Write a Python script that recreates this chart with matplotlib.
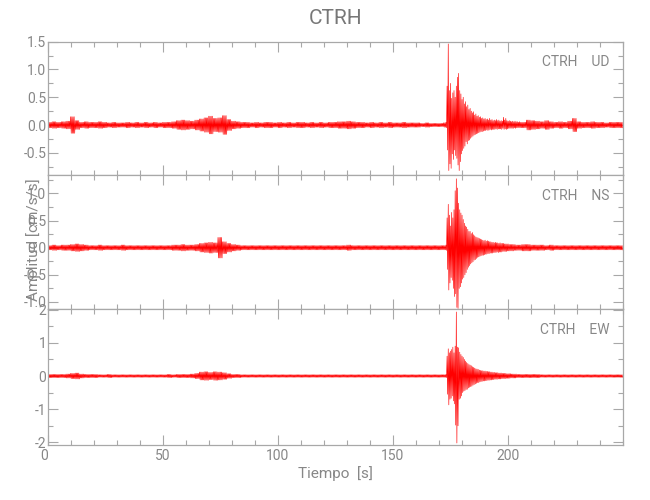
import numpy as np
import matplotlib
matplotlib.use("Agg")
import matplotlib.pyplot as plt
from matplotlib.ticker import MultipleLocator, FixedLocator, FormatStrFormatter

plt.rcParams['font.family'] = ['Roboto', 'DejaVu Sans']
plt.rcParams['font.weight'] = 'normal'
plt.rcParams['axes.labelweight'] = 'normal'

# ---------------- data ----------------
station = "CTRH"
components = ["UD", "NS", "EW"]
x_ticks = [0, 50, 100, 150, 200]

# quiet-noise amplitude per 2 s bin, 0-172 s
ud_pre = [.05, .06, .05, .06, .07, .15, .08, .05, .06, .05,
          .05, .06, .05, .04, .05, .04, .04, .05, .04, .05,
          .04, .05, .04, .05, .04, .05, .05, .06, .08, .09,
          .08, .07, .09, .11, .13, .16, .12, .13, .17, .10,
          .07, .06, .05, .05, .04, .05, .04, .05, .05, .04,
          .05, .04, .05, .04, .05, .05, .04, .05, .04, .05,
          .04, .05, .05, .06, .06, .07, .06, .05, .05, .04,
          .05, .04, .05, .04, .05, .04, .04, .05, .04, .04,
          .04, .03, .04, .03, .03, .03]
# event envelope per 0.5 s bin, 172-206 s
ud_ev_up = [.04, .04, .05, .70, 1.46, .62, .75, .48, .58, .62,
            .50, .70, .86, .93, .62, .56, .46, .50, .38, .42,
            .33, .36, .28, .30, .25, .22, .24, .18, .20, .16,
            .17, .14, .15, .12, .13, .11, .12, .10, .11, .09,
            .12, .09, .10, .08, .09, .08, .10, .08, .09, .07,
            .08, .07, .14, .09, .12, .08, .07, .08, .07, .06,
            .07, .06, .07, .06, .06, .05, .06, .05]
ud_ev_lo = [-.04, -.04, -.05, -.45, -.82, -.70, -.78, -.52, -.62, -.45,
            -.55, -.60, -.72, -.82, -.66, -.52, -.46, -.42, -.38, -.30,
            -.34, -.28, -.27, -.24, -.22, -.20, -.18, -.17, -.16, -.15,
            -.14, -.13, -.12, -.12, -.11, -.10, -.10, -.09, -.10, -.09,
            -.08, -.09, -.08, -.08, -.08, -.07, -.08, -.07, -.07, -.07,
            -.08, -.06, -.08, -.07, -.08, -.07, -.06, -.06, -.06, -.06,
            -.06, -.05, -.06, -.05, -.05, -.05, -.05, -.05]
# quiet-noise amplitude per 2 s bin, 206-250 s
ud_post = [.05, .09, .08, .07, .06, .08, .06, .05, .06, .05, .07,
           .12, .06, .05, .05, .06, .05, .05, .04, .05, .05, .05]

ns_pre = [.04, .05, .04, .05, .05, .06, .07, .06, .05, .04,
          .04, .05, .04, .04, .04, .04, .05, .04, .04, .04,
          .04, .04, .04, .04, .04, .04, .04, .05, .05, .06,
          .05, .05, .06, .08, .09, .10, .09, .19, .11, .08,
          .06, .05, .04, .04, .04, .04, .04, .04, .04, .04,
          .04, .04, .04, .04, .04, .04, .04, .04, .04, .04,
          .04, .04, .04, .04, .04, .05, .04, .04, .04, .04,
          .04, .04, .04, .04, .04, .04, .04, .04, .04, .04,
          .04, .04, .04, .04, .04, .04]
ns_ev_up = [.04, .04, .05, .55, .80, .60, .40, .65, .55, .70,
            1.05, 1.27, 1.10, .82, .70, .64, .60, .52, .45, .40,
            .38, .34, .30, .30, .26, .28, .24, .22, .20, .19,
            .18, .17, .16, .15, .14, .13, .14, .12, .13, .12,
            .11, .11, .10, .10, .09, .10, .09, .09, .08, .09,
            .08, .08, .08, .07, .07, .07, .07, .06, .06, .06,
            .06, .06, .06, .05, .05, .05, .05, .05]
ns_ev_lo = [-.04, -.04, -.05, -.40, -.78, -.65, -.55, -.60, -.75, -.90,
            -.85, -1.10, -1.12, -.75, -.72, -.65, -.58, -.55, -.50, -.46,
            -.40, -.36, -.33, -.30, -.28, -.26, -.23, -.22, -.20, -.18,
            -.17, -.16, -.15, -.14, -.14, -.13, -.12, -.12, -.11, -.11,
            -.10, -.10, -.10, -.09, -.09, -.09, -.08, -.09, -.08, -.08,
            -.08, -.07, -.07, -.07, -.07, -.06, -.06, -.06, -.06, -.06,
            -.06, -.05, -.05, -.05, -.05, -.05, -.05, -.05]
ns_post = [.06, .06, .05, .05, .05, .04, .05, .04, .04, .04, .04,
           .04, .04, .04, .04, .04, .04, .04, .04, .04, .04, .04]

ew_pre = [.05, .05, .05, .05, .06, .08, .09, .06, .05, .05,
          .05, .04, .04, .05, .04, .04, .04, .04, .04, .04,
          .04, .04, .04, .04, .04, .04, .05, .04, .05, .05,
          .05, .06, .08, .12, .13, .11, .13, .12, .10, .07,
          .05, .05, .04, .04, .04, .04, .04, .04, .04, .04,
          .04, .04, .04, .04, .04, .04, .04, .04, .04, .04,
          .04, .04, .04, .04, .04, .04, .04, .04, .04, .04,
          .04, .04, .04, .04, .04, .04, .04, .04, .04, .04,
          .04, .04, .04, .04, .04, .04]
ew_ev_up = [.04, .04, .05, .60, .82, .70, .75, .80, .87, .70,
            .90, 1.93, .87, .85, .72, .65, .60, .56, .50, .45,
            .41, .38, .35, .33, .31, .28, .26, .24, .22, .21,
            .20, .18, .17, .16, .16, .15, .15, .14, .14, .13,
            .13, .12, .12, .11, .11, .10, .10, .10, .09, .09,
            .09, .08, .08, .08, .08, .07, .07, .07, .07, .06,
            .06, .06, .06, .06, .05, .05, .05, .05]
ew_ev_lo = [-.04, -.04, -.05, -.55, -.87, -.70, -.67, -.60, -.75, -.84,
            -1.48, -2.02, -1.50, -.70, -.67, -.60, -.50, -.46, -.44, -.41,
            -.40, -.36, -.34, -.32, -.31, -.28, -.26, -.24, -.22, -.20,
            -.20, -.18, -.17, -.16, -.15, -.15, -.14, -.14, -.13, -.13,
            -.12, -.12, -.11, -.11, -.10, -.10, -.10, -.09, -.09, -.09,
            -.08, -.08, -.08, -.08, -.07, -.07, -.07, -.07, -.06, -.06,
            -.06, -.06, -.06, -.05, -.05, -.05, -.05, -.05]
ew_post = [.05, .05, .05, .05, .04, .04, .04, .04, .04, .04, .04,
           .04, .04, .04, .04, .04, .04, .04, .04, .04, .04, .04]

ylims = [(-0.9, 1.5), (-1.13, 1.34), (-2.08, 2.02)]
y_major = [0.5, 0.5, 1.0]
y_minor = [0.25, 0.25, 0.5]
y_fmt = ['%.1f', '%.1f', '%d']

# ---------------- trace assembly from envelopes ----------------
def build(pre, up, lo, post, pre_start=0.0, ev_start=172.0, post_start=206.0):
    ts, vs = [], []
    for i, a in enumerate(pre):
        t0 = pre_start + 2.0 * i
        for k in range(8):
            ts.append(t0 + 0.25 * k)
            vs.append(a if k % 2 == 0 else -a)
    for i, (u, l) in enumerate(zip(up, lo)):
        t0 = ev_start + 0.5 * i
        ts += [t0, t0 + 0.25]
        vs += [u, l]
    for i, a in enumerate(post):
        t0 = post_start + 2.0 * i
        for k in range(8):
            ts.append(t0 + 0.25 * k)
            vs.append(a if k % 2 == 0 else -a)
    return np.array(ts), np.array(vs)

traces = [build(ud_pre, ud_ev_up, ud_ev_lo, ud_post),
          build(ns_pre, ns_ev_up, ns_ev_lo, ns_post),
          build(ew_pre, ew_ev_up, ew_ev_lo, ew_post)]

# ---------------- figure ----------------
axcol = '#a8a8a8'
txtcol = '#878787'
fig = plt.figure(figsize=(6.5, 5.0), dpi=100)
left, width = 0.0733, 0.8855
panels = [(0.650, 0.2666), (0.382, 0.268), (0.110, 0.272)]

for i, (bottom, h) in enumerate(panels):
    ax = fig.add_axes([left, bottom, width, h])
    t, v = traces[i]
    ax.plot(t, v, color='red', lw=0.45)
    ax.set_xlim(0, 250)
    ax.set_ylim(*ylims[i])
    ax.xaxis.set_major_locator(FixedLocator(x_ticks))
    ax.xaxis.set_minor_locator(MultipleLocator(10))
    ax.yaxis.set_major_locator(MultipleLocator(y_major[i]))
    ax.yaxis.set_minor_locator(MultipleLocator(y_minor[i]))
    ax.yaxis.set_major_formatter(FormatStrFormatter(y_fmt[i]))
    ax.tick_params(which='both', direction='in', top=True, right=True,
                   color=axcol, labelcolor=txtcol, width=0.8, labelsize=10)
    ax.tick_params(which='major', length=7)
    ax.tick_params(which='minor', length=3.6)
    ax.tick_params(axis='y', pad=1)
    ax.tick_params(axis='x', pad=3)
    for s in ax.spines.values():
        s.set_color(axcol)
        s.set_linewidth(0.9)
    if i < 2:
        ax.tick_params(labelbottom=False)
    else:
        ax.set_xlabel('Tiempo  [s]', color=txtcol, fontsize=11, labelpad=2)
        ax.xaxis.get_major_ticks()[0].label1.set_horizontalalignment('right')
    ax.text(0.976, 0.845, f'{station}    {components[i]}', transform=ax.transAxes,
            ha='right', va='center', color=txtcol, fontsize=10)

fig.text(0.516, 0.964, station, ha='center', va='center', color='#777777', fontsize=15)
fig.text(0.051, 0.52, 'Amplitud [cm/s/s]', rotation=90, ha='center', va='center',
         color=txtcol, fontsize=11)

fig.savefig('out.png', dpi=100)
